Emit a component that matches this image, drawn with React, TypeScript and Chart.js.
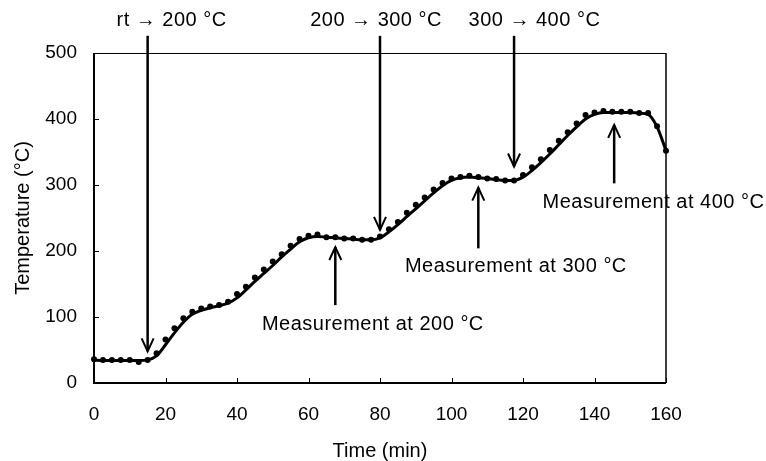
import React, { useEffect, useRef } from "react";
import { Chart, registerables } from "chart.js";

Chart.register(...registerables);

const timeMin = [
  0, 2.5, 5, 7.5, 10, 12.5, 15, 17.5, 20, 22.5, 25, 27.5, 30, 32.5, 35, 37.5,
  40, 42.5, 45, 47.5, 50, 52.5, 55, 57.5, 60, 62.5, 65, 67.5, 70, 72.5, 75, 77.5,
  80, 82.5, 85, 87.5, 90, 92.5, 95, 97.5, 100, 102.5, 105, 107.5, 110, 112.5, 115, 117.5,
  120, 122.5, 125, 127.5, 130, 132.5, 135, 137.5, 140, 142.5, 145, 147.5, 150, 152.5, 155, 157.5,
  160,
];

const measuredTemp = [
  36, 35, 35, 35, 35, 32, 35, 45, 66, 83, 98, 108, 113, 116, 118, 123,
  135, 146, 160, 172, 184, 195, 208, 218, 223, 225, 221, 221, 219, 219, 217, 217,
  222, 233, 244, 258, 270, 281, 293, 303, 310, 312, 314, 312, 310, 309, 307, 307,
  315, 327, 339, 353, 367, 380, 393, 406, 410, 412, 411, 411, 411, 409, 409, 389,
  352,
];

const curveTemp = [
  35, 34, 34, 34, 34, 34, 35, 41, 58, 76, 92, 104, 110, 114, 117, 121,
  129, 141, 154, 166, 178, 191, 203, 214, 220, 222, 221, 220, 219, 218, 217, 217,
  220, 229, 240, 252, 264, 276, 288, 299, 307, 311, 312, 311, 310, 308, 307, 307,
  312, 322, 334, 347, 361, 375, 388, 400, 407, 410, 410, 410, 410, 409, 407, 388,
  352,
];

const xTicks = [0, 20, 40, 60, 80, 100, 120, 140, 160];
const yTicks = [0, 100, 200, 300, 400, 500];

// Ramp annotations (down arrows)
const rampLabels = ["rt → 200 °C", "200 → 300 °C", "300 → 400 °C"];
const rampTimes = [15, 80, 117.5];
const rampTipTemps = [48, 232, 328];
const rampTopTemp = 526;
const rampLabelTimes = [21.7, 78.9, 123.2];
const rampLabelTemp = 550;

// Measurement annotations (up arrows)
const measLabels = ["Measurement at 200 °C", "Measurement at 300 °C", "Measurement at 400 °C"];
const measTimes = [67.5, 107.5, 145.5];
const measTipTemps = [206, 296, 391];
const measTailTemps = [118, 204, 302.5];
const measLabelTimes = [78, 118, 156.5];
const measLabelTemps = [89, 176, 273.5];

const FONT = '"Liberation Sans", Arial, sans-serif';

const annotPlugin = {
  id: "annot",
  beforeDatasetsDraw(chart: any) {
    const { ctx, chartArea: a, scales } = chart;
    const xs = scales.x;
    const ys = scales.y;
    ctx.save();
    ctx.strokeStyle = "#000";
    ctx.lineWidth = 1;
    ctx.beginPath();
    ctx.moveTo(a.left, a.top + 0.5);
    ctx.lineTo(a.right, a.top + 0.5);
    ctx.stroke();
    ctx.lineWidth = 1.5;
    ctx.beginPath();
    ctx.moveTo(a.right, a.top);
    ctx.lineTo(a.right, a.bottom);
    ctx.stroke();
    ctx.lineWidth = 2;
    ctx.beginPath();
    ctx.moveTo(a.left, a.top);
    ctx.lineTo(a.left, a.bottom);
    ctx.lineTo(a.right, a.bottom);
    ctx.stroke();
    ctx.lineWidth = 1;
    ctx.beginPath();
    for (const v of xTicks) {
      const px = Math.round(xs.getPixelForValue(v)) + 0.5;
      ctx.moveTo(px, a.bottom);
      ctx.lineTo(px, a.bottom - 5);
    }
    for (const v of yTicks) {
      const py = Math.round(ys.getPixelForValue(v)) + 0.5;
      ctx.moveTo(a.left, py);
      ctx.lineTo(a.left + 5, py);
    }
    ctx.stroke();
    ctx.restore();
  },
  afterDatasetsDraw(chart: any) {
    const { ctx, scales } = chart;
    const xs = scales.x;
    const ys = scales.y;
    ctx.save();
    ctx.strokeStyle = "#000";
    ctx.fillStyle = "#000";
    const arrow = (x: number, y0: number, y1: number) => {
      const dir = y1 > y0 ? 1 : -1;
      ctx.lineWidth = 2.5;
      ctx.beginPath();
      ctx.moveTo(x, y0);
      ctx.lineTo(x, y1);
      ctx.stroke();
      ctx.lineWidth = 2;
      ctx.beginPath();
      ctx.moveTo(x - 6, y1 - dir * 13);
      ctx.lineTo(x, y1);
      ctx.lineTo(x + 6, y1 - dir * 13);
      ctx.stroke();
    };
    for (let i = 0; i < rampLabels.length; i++) {
      const x = xs.getPixelForValue(rampTimes[i]);
      arrow(x, ys.getPixelForValue(rampTopTemp), ys.getPixelForValue(rampTipTemps[i]));
    }
    for (let i = 0; i < measLabels.length; i++) {
      const x = xs.getPixelForValue(measTimes[i]);
      arrow(x, ys.getPixelForValue(measTailTemps[i]), ys.getPixelForValue(measTipTemps[i]));
    }
    ctx.font = `20px ${FONT}`;
    ctx.textAlign = "center";
    ctx.textBaseline = "middle";
    try {
      (ctx as any).letterSpacing = "0.5px";
    } catch (e) {}
    for (let i = 0; i < rampLabels.length; i++) {
      ctx.fillText(rampLabels[i], xs.getPixelForValue(rampLabelTimes[i]), ys.getPixelForValue(rampLabelTemp));
    }
    for (let i = 0; i < measLabels.length; i++) {
      ctx.fillText(measLabels[i], xs.getPixelForValue(measLabelTimes[i]), ys.getPixelForValue(measLabelTemps[i]));
    }
    ctx.restore();
  },
};

export default function App() {
  const ref = useRef<HTMLCanvasElement | null>(null);
  useEffect(() => {
    if (!ref.current) return;
    const chart = new Chart(ref.current, {
      type: "line",
      data: {
        datasets: [
          {
            label: "Measured",
            data: timeMin.map((t, i) => ({ x: t, y: measuredTemp[i] })),
            showLine: false,
            pointRadius: 3,
            pointBackgroundColor: "#000",
            pointBorderColor: "#000",
            pointBorderWidth: 0,
            clip: false,
          },
          {
            label: "Curve",
            data: timeMin.map((t, i) => ({ x: t, y: curveTemp[i] })),
            borderColor: "#000",
            borderWidth: 3,
            pointRadius: 0,
            cubicInterpolationMode: "monotone",
            fill: false,
            clip: false,
          },
        ],
      },
      options: {
        responsive: true,
        maintainAspectRatio: false,
        animation: false,
        layout: { padding: { left: 0, top: 53, right: 100, bottom: 0 } },
        plugins: { legend: { display: false }, tooltip: { enabled: false } },
        scales: {
          x: {
            type: "linear",
            min: 0,
            max: 160,
            afterBuildTicks: (s: any) => {
              s.ticks = xTicks.map((v) => ({ value: v }));
            },
            afterFit: (s: any) => {
              s.height = 78;
            },
            grid: { display: false, drawTicks: false },
            border: { display: false },
            ticks: {
              font: { family: FONT, size: 19 },
              color: "#000",
              padding: 20,
              maxRotation: 0,
              autoSkip: false,
            },
            title: {
              display: true,
              text: "Time (min)",
              color: "#000",
              font: { family: FONT, size: 20, lineHeight: 1 },
              padding: { top: 0, bottom: 0 },
            },
          },
          y: {
            type: "linear",
            min: 0,
            max: 500,
            afterBuildTicks: (s: any) => {
              s.ticks = yTicks.map((v) => ({ value: v }));
            },
            afterFit: (s: any) => {
              s.width = 94;
            },
            grid: { display: false, drawTicks: false },
            border: { display: false },
            ticks: {
              font: { family: FONT, size: 19 },
              color: "#000",
              padding: 17,
              autoSkip: false,
            },
            title: {
              display: true,
              text: "Temperature (°C)",
              color: "#000",
              font: { family: FONT, size: 20, lineHeight: 1 },
              padding: { top: 13, bottom: 0 },
            },
          },
        },
      },
      plugins: [annotPlugin],
    } as any);
    return () => chart.destroy();
  }, []);
  return (
    <div style={{ position: "absolute", left: 0, top: 0, width: 766, height: 461, background: "#fff" }}>
      <canvas ref={ref} />
    </div>
  );
}
